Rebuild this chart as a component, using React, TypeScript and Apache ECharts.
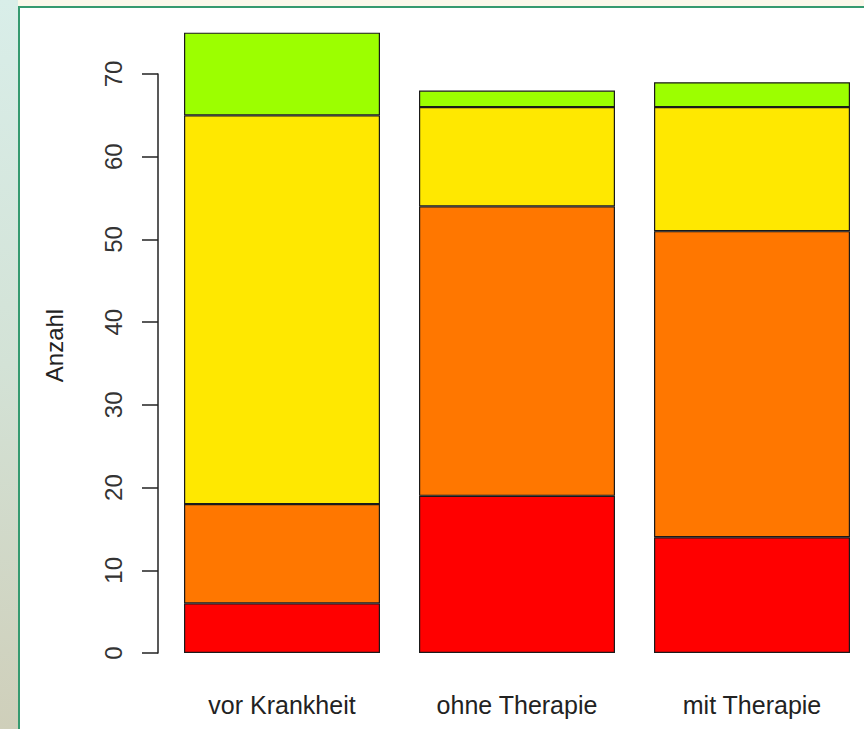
import React, { useEffect, useRef } from "react";
import * as echarts from "echarts";

const categories = ["vor Krankheit", "ohne Therapie", "mit Therapie"];
const redValues = [6, 19, 14];
const orangeValues = [12, 35, 37];
const yellowValues = [47, 12, 15];
const greenValues = [10, 2, 3];
const segmentColors = ["#ff0000", "#ff7700", "#ffe800", "#9cff00"];
const yAxisName = "Anzahl";

export default function App() {
  const ref = useRef<HTMLDivElement>(null);
  useEffect(() => {
    const el = ref.current;
    if (!el) return;
    const chart = echarts.init(el, null, { renderer: "svg" });
    const stacks = [redValues, orangeValues, yellowValues, greenValues];
    const font = "'Liberation Sans', Arial, sans-serif";
    chart.setOption({
      animation: false,
      backgroundColor: "#ffffff",
      graphic: [
        {
          type: "rect",
          silent: true,
          z: -10,
          shape: { x: 0, y: 0, width: 880, height: 7 },
          style: { fill: "#fbf8ea" },
        },
        {
          type: "rect",
          silent: true,
          z: -10,
          shape: { x: 0, y: 0, width: 18, height: 729 },
          style: {
            fill: new echarts.graphic.LinearGradient(0, 0, 0, 1, [
              { offset: 0, color: "#d9eee9" },
              { offset: 0.5, color: "#d3e2d6" },
              { offset: 1, color: "#cfcfba" },
            ]),
          },
        },
        {
          type: "rect",
          silent: true,
          z: -9,
          shape: { x: 18, y: 6, width: 862, height: 2 },
          style: { fill: "#369a70" },
        },
        {
          type: "rect",
          silent: true,
          z: -9,
          shape: { x: 18, y: 6, width: 2, height: 723 },
          style: { fill: "#369a70" },
        },
      ],
      grid: { left: 164.5, width: 705, top: 74, height: 579, containLabel: false },
      xAxis: {
        type: "category",
        data: categories,
        axisLine: { show: false },
        axisTick: { show: false },
        axisLabel: {
          color: "#222222",
          fontSize: 25,
          fontFamily: font,
          margin: 39,
        },
      },
      yAxis: {
        type: "value",
        min: 0,
        max: 70,
        interval: 10,
        offset: 6.5,
        name: yAxisName,
        nameLocation: "middle",
        nameRotate: 90,
        nameGap: 92,
        nameTextStyle: {
          color: "#222222",
          fontSize: 24,
          fontFamily: font,
          padding: [0, 0, 0, 36],
        },
        axisLine: { show: true, lineStyle: { color: "#222222", width: 1.5 } },
        axisTick: { show: true, length: 16, lineStyle: { color: "#222222", width: 1.5 } },
        splitLine: { show: false },
        axisLabel: {
          color: "#333333",
          fontSize: 24,
          fontFamily: font,
          rotate: 90,
          margin: 33,
        },
      },
      series: stacks.map((vals, i) => ({
        type: "bar",
        stack: "total",
        data: vals,
        clip: false,
        barCategoryGap: "16.6%",
        itemStyle: {
          color: segmentColors[i],
          borderColor: "#1a1a1a",
          borderWidth: 1.2,
        },
      })),
    });
    return () => chart.dispose();
  }, []);
  return (
    <div
      ref={ref}
      style={{ position: "fixed", left: 0, top: 0, width: 880, height: 729 }}
    />
  );
}
